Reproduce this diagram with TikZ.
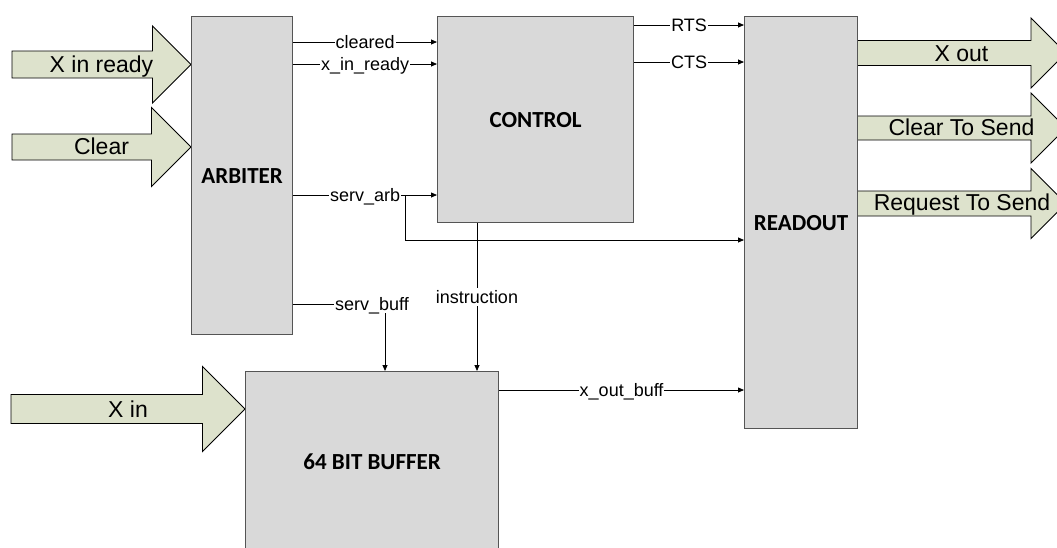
\documentclass[tikz,border=0pt]{standalone}
\usepackage{fontspec}
\setmainfont{Liberation Sans}
\newfontfamily\titlefont{Carlito}
\usepackage{tikz}
\usetikzlibrary{arrows.meta, positioning, calc}
\usepackage{xcolor}

\definecolor{boxgray}{RGB}{217,217,217}
\definecolor{boxline}{RGB}{85,85,85}
\definecolor{padgreen}{RGB}{221,226,204}

\begin{document}
\begin{tikzpicture}[
    x=1pt, y=-1pt,
    block/.style = {rectangle, draw=boxline, fill=boxgray, line width=1.2pt, anchor=north west, inner sep=0pt, font=\titlefont\bfseries\fontsize{23}{27}\selectfont},
    bigarrow/.style = {draw=black, fill=padgreen, line width=0.9pt, line join=miter},
    arrowtext/.style = {anchor=base, inner sep=0pt, font=\fontsize{23}{27}\selectfont},
    sig/.style = {draw=black, line width=0.8pt, -{Triangle[length=6pt, width=5pt]}},
    siglabel/.style = {fill=white, inner xsep=1pt, inner ysep=2pt, text height=13pt, text depth=1pt, font=\fontsize{18}{20}\selectfont}
]

\useasboundingbox (0,0) rectangle (1057,547);
\clip (0,0) rectangle (1057,547);

% Input arrows
\draw [bigarrow] (12,51) -- (152.5,51) -- (152.5,26) -- (191,64.5) -- (152.5,103) -- (152.5,78) -- (12,78) -- cycle;
\node (in_ready) [arrowtext, at={(101.5,72)}] {X in ready};

\draw [bigarrow] (12,134) -- (151.5,134) -- (151.5,107.5) -- (191,147) -- (151.5,186.5) -- (151.5,160) -- (12,160) -- cycle;
\node (in_clear) [arrowtext, at={(101.5,154.5)}] {Clear};

\draw [bigarrow] (11,394.5) -- (202.5,394.5) -- (202.5,366.5) -- (245,409) -- (202.5,451.5) -- (202.5,423.5) -- (11,423.5) -- cycle;
\node (in_x) [arrowtext, at={(128,417)}] {X in};

% Output arrows
\draw [bigarrow] (857,40.5) -- (1031,40.5) -- (1031,18) -- (1066,53) -- (1031,88) -- (1031,65.5) -- (857,65.5) -- cycle;
\node (out_x) [arrowtext, at={(961.5,61)}] {X out};

\draw [bigarrow] (857,116) -- (1031,116) -- (1031,93) -- (1066,128) -- (1031,163) -- (1031,140) -- (857,140) -- cycle;
\node (out_cts) [arrowtext, at={(961.5,135.5)}] {Clear To Send};

\draw [bigarrow] (857,191) -- (1031,191) -- (1031,168.5) -- (1066,203.5) -- (1031,238.5) -- (1031,216) -- (857,216) -- cycle;
\node (out_rts) [arrowtext, at={(962,210.5)}] {Request To Send};

% Blocks
\node (arbiter) [block, minimum width=101pt, minimum height=318pt, at={(191,16)}] {ARBITER};
\node (control) [block, minimum width=196pt, minimum height=206pt, at={(437,16)}] {CONTROL};
\node (readout) [block, minimum width=113pt, minimum height=412pt, at={(744,16)}] {READOUT};
\node (buffer) [block, minimum width=253pt, minimum height=180pt, at={(245,371)}] {64 BIT BUFFER};

% Arbiter to control
\draw [sig] ([yshift=-26pt]arbiter.north east) -- node[siglabel] {cleared} ([yshift=-26pt]control.north west);
\draw [sig] ([yshift=-48pt]arbiter.north east) -- node[siglabel] {x\_in\_ready} ([yshift=-48pt]control.north west);
\draw [sig] ([yshift=-179pt]arbiter.north east) -- node[siglabel] {serv\_arb} ([yshift=-179pt]control.north west);

% serv_arb branch to readout
\coordinate (arb_split) at ([xshift=112pt, yshift=-179pt]arbiter.north east);
\draw [sig] (arb_split) |- ([yshift=-224pt]readout.north west);

% Control to readout
\draw [sig] ([yshift=-9pt]control.north east) -- node[siglabel] {RTS} ([yshift=-9pt]readout.north west);
\draw [sig] ([yshift=-46pt]control.north east) -- node[siglabel] {CTS} ([yshift=-46pt]readout.north west);

% Into the buffer
\draw [sig] ([yshift=-288pt]arbiter.north east) -| node[siglabel, pos=0.5, xshift=-13pt] {serv\_buff} ([xshift=140pt]buffer.north west);
\coordinate (ctrl_out) at ([xshift=40pt]control.south west);
\draw [sig] (ctrl_out) -- node[siglabel] {instruction} (ctrl_out |- buffer.north);

% Buffer to readout
\coordinate (buff_out) at ([yshift=-19pt]buffer.north east);
\draw [sig] (buff_out) -- node[siglabel] {x\_out\_buff} (buff_out -| readout.west);

\end{tikzpicture}
\end{document}
